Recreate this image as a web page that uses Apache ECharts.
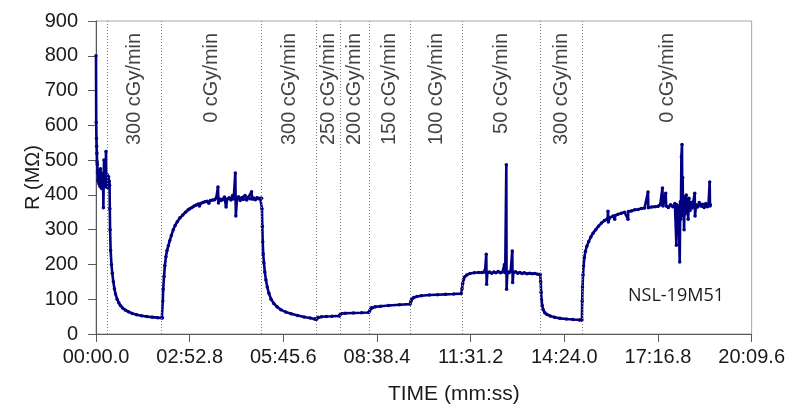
<!DOCTYPE html>
<html>
<head>
<meta charset="utf-8">
<script src="https://cdn.jsdelivr.net/npm/echarts@6/dist/echarts.min.js"></script>
<style>
  html, body { margin: 0; padding: 0; background: #fff; }
  #chart { width: 788px; height: 410px; }
</style>
</head>
<body>
<div id="chart"></div>
<script>
// Sensor resistance (MΩ) versus elapsed time (s) under changing dose rate.
// Each phase is a list of [time in seconds, resistance in MΩ].
const phaseStart = [
  [0, 800], [0.4, 608], [0.8, 562], [1.2, 540], [1.6, 520], [2.0, 495], [2.4, 488], [3.0, 465],
  [3.6, 440], [4.2, 470], [4.8, 448], [5.4, 432], [6.0, 462], [6.6, 440], [7.2, 425], [7.8, 455],
  [8.4, 475], [9.0, 440], [9.6, 420], [10.2, 452], [10.8, 435], [11.4, 418], [12.0, 448], [12.6, 462],
  [13.2, 430], [13.6, 363], [14.2, 440], [14.8, 500], [15.4, 450], [16.0, 425], [16.6, 446], [17.2, 470],
  [17.8, 432], [18.4, 525], [19.0, 445], [19.6, 422], [20.2, 442], [20.8, 458], [21.4, 430], [22.0, 446],
  [22.6, 420], [23.2, 452], [23.8, 430], [24.4, 440], [25.0, 428]
];
const phaseDose300a = [
  [25.5, 360], [26, 300], [27, 240], [28.5, 200], [30, 175], [32, 150], [34, 130], [36, 115],
  [39, 100], [42, 90], [45, 82], [49, 75], [54, 69], [60, 64], [67, 59], [75, 55.5], [84, 52.5],
  [94, 50], [104, 48.5], [114, 47], [121.5, 46], [122.6, 47]
];
const phaseRecovery1 = [
  [123.2, 95], [124, 129], [125.5, 165], [127, 196], [129, 222], [131, 240], [133.5, 254], [136, 268],
  [139, 283], [142.5, 300], [146, 312], [150, 323], [155, 334], [160, 342], [165, 350], [170, 357],
  [173, 360], [177, 364], [181, 368], [185, 371], [189, 374], [191, 368], [193, 375], [197, 378],
  [201, 380], [205, 382], [208, 376], [211, 384], [215, 385], [219, 386], [222, 392], [225, 423],
  [226, 377], [228, 388], [231, 384], [234, 387], [237, 394], [240, 365], [242, 388], [246, 392],
  [249, 385], [252, 398], [254, 388], [257, 463], [258, 339], [260, 388], [263, 395], [266, 384],
  [269, 392], [272, 387], [275, 398], [278, 385], [281, 393], [284, 389], [287, 409], [288, 388],
  [291, 391], [294, 386], [297, 392], [300, 389], [303, 390], [305.5, 390]
];
const phaseDoseSteps = [
  [306.2, 360], [306.8, 310], [307.6, 265], [308.5, 230], [309.8, 205], [311.5, 178], [313.5, 155],
  [316, 135], [319, 117], [323, 100], [328, 88], [334, 78], [341, 70], [350, 63], [360, 58],
  [372, 53], [384, 49], [395, 46], [403, 43], [406.5, 42], [408, 45], [410, 48], [416, 49.5],
  [425, 50.5], [435, 51], [449, 52], [450.5, 56], [452, 58.5], [460, 59.5], [475, 60.5], [490, 61],
  [503, 62], [504.8, 66], [506.5, 72], [509, 76], [515, 78], [525, 80], [540, 82], [560, 84],
  [579.5, 86], [581, 94], [582.5, 100], [586, 105], [592, 108], [600, 110], [615, 112], [630, 113],
  [645, 114], [660, 115], [674, 116], [675.3, 130], [676.5, 145], [678, 157], [680, 164], [684, 170],
  [690, 174], [698, 176], [706, 177], [712, 177], [716, 178], [718, 185], [720, 229], [720.7, 143],
  [722, 176], [726, 178], [730, 175], [734, 178], [738, 176], [742, 180], [746, 176], [750, 178],
  [753.5, 200], [755, 176], [757, 487], [757.5, 129], [759, 178], [762, 176], [765, 180], [768, 239],
  [768.7, 148], [770, 177], [774, 179], [778, 175], [782, 177], [786, 174], [790, 176], [795, 173],
  [800, 175], [805, 173], [810, 174], [815, 172], [819.5, 172]
];
const phaseDose300b = [
  [820.5, 150], [821.2, 120], [822, 98], [823.2, 82], [825, 70], [828, 61], [832, 56], [838, 52],
  [846, 48], [856, 45], [868, 43], [880, 41.5], [892, 40.5], [896.5, 40]
];
const phaseRecovery2 = [
  [897, 95], [897.6, 135], [898.5, 170], [899.5, 196], [901, 220], [903, 238], [905.5, 252], [909, 266],
  [913, 279], [917, 290], [922, 300], [927, 310], [932.5, 319], [938, 326], [944, 332], [944.6, 353],
  [945.2, 322], [948, 335], [954, 339], [957, 330], [958, 341], [963, 344], [969, 347], [975, 350],
  [981.5, 330], [982, 352], [988, 354], [994, 357], [1000, 358], [1006, 361], [1012, 362], [1018.4, 408],
  [1019, 363], [1025, 365], [1031, 366], [1037, 367], [1041, 372], [1045, 420], [1046, 368], [1051, 405],
  [1052, 368], [1056, 364], [1060, 372], [1064, 366], [1068, 375], [1070.8, 255], [1072, 372], [1075, 360],
  [1076.9, 207], [1078, 380], [1079, 330], [1080, 510], [1081.1, 545], [1081.8, 355], [1082.4, 450],
  [1083, 340], [1084, 385], [1085, 300], [1086, 395], [1087, 345], [1089, 400], [1090, 350], [1091, 380],
  [1092.5, 330], [1094, 390], [1096, 355], [1098, 378], [1100, 362], [1102, 380], [1104.6, 405],
  [1105.2, 339], [1107, 372], [1110, 365], [1113, 378], [1116, 368], [1119, 373], [1122, 364],
  [1125, 375], [1128, 366], [1130, 372], [1132.2, 437], [1132.8, 368], [1133.5, 372]
];

// Dose-rate phase boundaries (s); the last entry is the end of the time axis.
const phaseEdges = [21.5, 121.1, 305.5, 406.9, 449.9, 504.0, 580.2, 674.9, 819.9, 897.4, 1209.6];
const phaseLabels = ['300 cGy/min', '0 cGy/min', '300 cGy/min', '250 cGy/min', '200 cGy/min',
  '150 cGy/min', '100 cGy/min', '50 cGy/min', '300 cGy/min', '0 cGy/min'];
const labelTop = 866;   // resistance level where the phase captions end

const xTickStep = 172.8;
const xMax = 1209.6;
const yMax = 900;
const yTickStep = 100;

const trace = [].concat(phaseStart, phaseDose300a, phaseRecovery1, phaseDoseSteps,
  phaseDose300b, phaseRecovery2);

function mmss(v) {
  const tenths = Math.round(v * 10);
  const m = Math.floor(tenths / 600);
  const s = (tenths % 600) / 10;
  return String(m).padStart(2, '0') + ':' + (s < 10 ? '0' : '') + s.toFixed(1);
}

const captionData = phaseLabels.map((name, i) => ({
  name: name,
  value: [(phaseEdges[i] + phaseEdges[i + 1]) / 2, labelTop]
}));
const boundaryLines = phaseEdges.slice(0, -1).map(t => ({ xAxis: t }));

const FONT = '"Liberation Sans", Arial, sans-serif';
const chart = echarts.init(document.getElementById('chart'), null, { renderer: 'canvas' });
chart.setOption({
  animation: false,
  backgroundColor: '#ffffff',
  grid: {
    left: 96, right: 36, top: 21, bottom: 75,
    show: true, borderColor: '#a6a6a6', borderWidth: 1
  },
  xAxis: {
    type: 'value', min: 0, max: xMax, interval: xTickStep,
    name: 'TIME (mm:ss)', nameLocation: 'middle', nameGap: 50, nameMoveOverlap: false,
    nameTextStyle: { fontFamily: FONT, fontSize: 21, color: '#1a1a1a', padding: [0, 0, 0, 60] },
    axisLine: { show: true, lineStyle: { color: '#595959', width: 1 } },
    axisTick: { show: true, length: 8, lineStyle: { color: '#595959' } },
    axisLabel: { fontFamily: FONT, fontSize: 20, color: '#1a1a1a', margin: 13, formatter: mmss },
    splitLine: { show: false }
  },
  yAxis: {
    type: 'value', min: 0, max: yMax, interval: yTickStep,
    name: 'R (MΩ)', nameLocation: 'middle', nameGap: 53, nameRotate: 90, nameMoveOverlap: false,
    nameTextStyle: { fontFamily: FONT, fontSize: 20, color: '#1a1a1a' },
    axisLine: { show: true, lineStyle: { color: '#595959', width: 1 } },
    axisTick: { show: true, length: 8, lineStyle: { color: '#595959' } },
    axisLabel: { fontFamily: FONT, fontSize: 20, color: '#1a1a1a', margin: 18 },
    splitLine: { show: false }
  },
  series: [
    {
      name: 'phases',
      type: 'scatter',
      symbol: 'circle',
      symbolSize: 1,
      itemStyle: { color: 'rgba(0,0,0,0)' },
      data: captionData,
      silent: true,
      label: {
        show: true, position: 'inside', rotate: 90,
        align: 'right', verticalAlign: 'middle',
        formatter: p => p.name,
        fontFamily: FONT, fontSize: 20, color: '#111111'
      },
      markLine: {
        silent: true, symbol: 'none', animation: false,
        label: { show: false },
        lineStyle: { color: '#7f7f7f', type: [1, 2], width: 1 },
        data: boundaryLines
      },
      z: 1
    },
    {
      name: 'R',
      type: 'line',
      data: trace,
      showSymbol: true,
      showAllSymbol: true,
      symbol: 'circle',
      symbolSize: 3.5,
      sampling: null,
      lineStyle: { color: '#000080', width: 2.6 },
      itemStyle: { color: '#000080' },
      z: 3
    }
  ],
  graphic: [
    {
      type: 'text', left: 628, top: 287,
      style: { text: 'NSL-19M51', fontFamily: '"Open Sans", "Noto Sans", sans-serif', fontSize: 18, fill: '#1a1a1a' }
    }
  ]
});
</script>
</body>
</html>
